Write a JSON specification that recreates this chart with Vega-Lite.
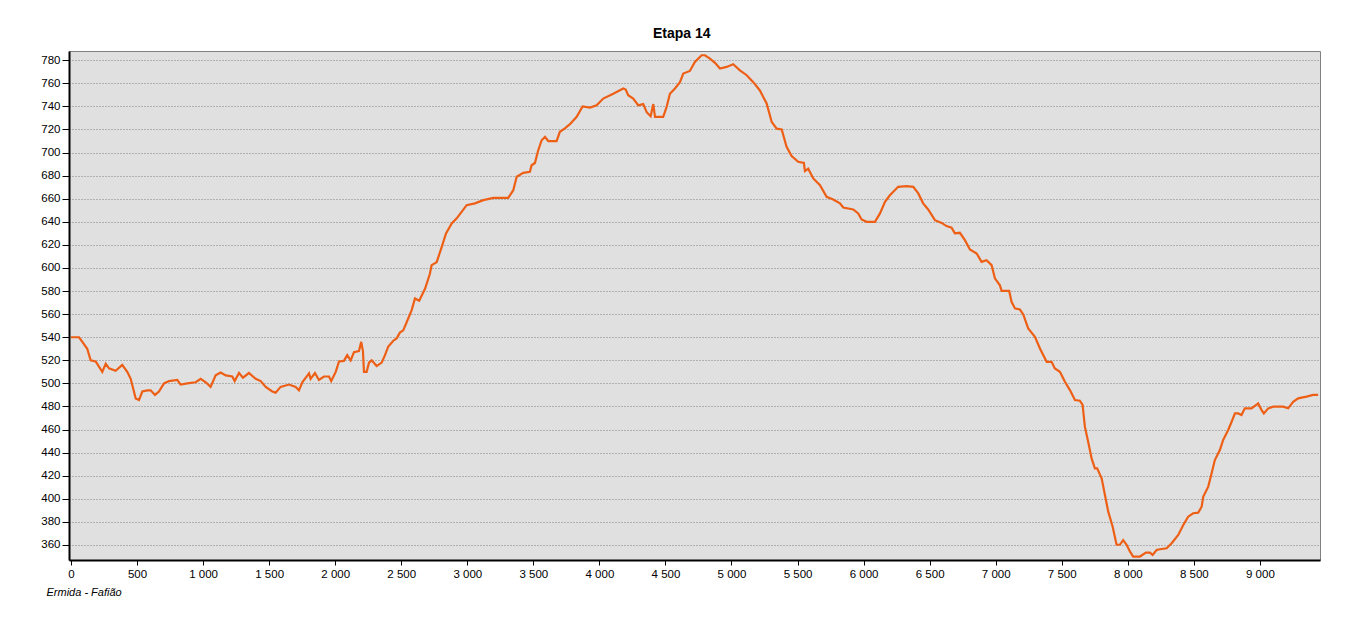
{
  "$schema": "https://vega.github.io/schema/vega-lite/v6.json",
  "autosize": {"type": "none"},
  "padding": {"left": 69, "top": 51, "right": 41, "bottom": 64},
  "width": 1251,
  "height": 509,
  "background": "#ffffff",
  "title": {"text": "Etapa 14", "font": "Liberation Sans", "fontSize": 14, "fontWeight": "bold", "color": "#000000", "anchor": "middle", "frame": "bounds", "offset": 10},
  "config": {
    "locale": {"number": {"decimal": ",", "thousands": " ", "grouping": [3], "currency": ["", ""]}},
    "view": {"fill": "#e0e0e0", "stroke": "#808080", "strokeWidth": 1}
  },
  "data": {"values": [
    {"d":0,"h":540},{"d":61,"h":540},{"d":86,"h":536},{"d":123,"h":530},{"d":149,"h":520},{"d":187,"h":519},{"d":237,"h":510},{"d":263,"h":517},{"d":288,"h":513},{"d":338,"h":511},{"d":388,"h":516},{"d":426,"h":510},{"d":452,"h":504},{"d":490,"h":487},{"d":515,"h":485.6},{"d":540,"h":493},{"d":578,"h":494},{"d":603,"h":494},{"d":636,"h":490},{"d":666,"h":493},{"d":704,"h":500},{"d":742,"h":502},{"d":805,"h":503},{"d":830,"h":499},{"d":880,"h":500},{"d":944,"h":501},{"d":982,"h":504},{"d":1020,"h":501},{"d":1057,"h":497},{"d":1095,"h":507},{"d":1133,"h":509.5},{"d":1171,"h":507},{"d":1221,"h":506},{"d":1239,"h":502},{"d":1272,"h":509},{"d":1302,"h":505},{"d":1347,"h":509},{"d":1398,"h":504},{"d":1436,"h":502},{"d":1474,"h":497},{"d":1524,"h":493},{"d":1549,"h":492},{"d":1587,"h":497},{"d":1650,"h":499},{"d":1701,"h":497},{"d":1726,"h":494},{"d":1751,"h":501},{"d":1802,"h":508.7},{"d":1814,"h":504},{"d":1847,"h":509},{"d":1877,"h":503},{"d":1915,"h":506},{"d":1953,"h":506},{"d":1970,"h":502},{"d":2004,"h":510},{"d":2029,"h":519},{"d":2066,"h":519.5},{"d":2091,"h":524.5},{"d":2117,"h":520},{"d":2142,"h":527},{"d":2180,"h":528},{"d":2197,"h":536},{"d":2210,"h":528},{"d":2218,"h":510},{"d":2238,"h":510},{"d":2256,"h":518},{"d":2276,"h":520},{"d":2314,"h":515},{"d":2352,"h":518},{"d":2377,"h":524.5},{"d":2402,"h":532},{"d":2440,"h":537},{"d":2465,"h":539},{"d":2490,"h":544},{"d":2515,"h":546},{"d":2541,"h":553},{"d":2579,"h":563.5},{"d":2604,"h":573.6},{"d":2636,"h":571.6},{"d":2680,"h":582},{"d":2717,"h":595},{"d":2730,"h":602.5},{"d":2768,"h":605},{"d":2806,"h":618},{"d":2839,"h":630},{"d":2882,"h":638.6},{"d":2920,"h":643},{"d":2957,"h":648.6},{"d":2995,"h":654.4},{"d":3058,"h":656},{"d":3121,"h":658.8},{"d":3147,"h":659.4},{"d":3197,"h":660.8},{"d":3310,"h":660.8},{"d":3348,"h":667.4},{"d":3374,"h":679},{"d":3424,"h":682.4},{"d":3474,"h":683.3},{"d":3487,"h":689},{"d":3512,"h":691},{"d":3537,"h":702},{"d":3563,"h":710.7},{"d":3588,"h":713.6},{"d":3613,"h":710},{"d":3676,"h":710},{"d":3701,"h":718},{"d":3739,"h":721},{"d":3777,"h":724.6},{"d":3828,"h":731},{"d":3873,"h":740},{"d":3929,"h":739},{"d":3979,"h":741},{"d":4029,"h":746.8},{"d":4105,"h":751},{"d":4181,"h":755.5},{"d":4199,"h":754.6},{"d":4218,"h":749.7},{"d":4256,"h":746.8},{"d":4294,"h":741},{"d":4332,"h":742},{"d":4358,"h":735},{"d":4388,"h":731.5},{"d":4408,"h":742},{"d":4421,"h":731},{"d":4483,"h":731},{"d":4509,"h":739.6},{"d":4534,"h":751},{"d":4572,"h":755.5},{"d":4610,"h":761},{"d":4635,"h":768.5},{"d":4685,"h":770.7},{"d":4723,"h":778.5},{"d":4774,"h":784.3},{"d":4799,"h":784.3},{"d":4837,"h":781.4},{"d":4875,"h":777.7},{"d":4913,"h":772.8},{"d":4963,"h":774.2},{"d":5013,"h":776.5},{"d":5064,"h":771.3},{"d":5115,"h":767},{"d":5165,"h":761},{"d":5215,"h":753.8},{"d":5266,"h":742.5},{"d":5304,"h":726.6},{"d":5342,"h":720.7},{"d":5380,"h":720},{"d":5417,"h":705},{"d":5455,"h":697},{"d":5505,"h":692},{"d":5548,"h":691},{"d":5556,"h":684},{"d":5581,"h":686},{"d":5619,"h":677.6},{"d":5670,"h":671.8},{"d":5720,"h":661.6},{"d":5770,"h":659.4},{"d":5821,"h":656},{"d":5846,"h":652.4},{"d":5922,"h":650.7},{"d":5959,"h":647.3},{"d":5985,"h":642},{"d":6023,"h":640},{"d":6086,"h":640},{"d":6124,"h":647.3},{"d":6162,"h":657.3},{"d":6199,"h":663},{"d":6262,"h":670.3},{"d":6326,"h":671},{"d":6376,"h":670.3},{"d":6414,"h":664.6},{"d":6451,"h":656},{"d":6489,"h":650.7},{"d":6540,"h":641.4},{"d":6591,"h":639.1},{"d":6628,"h":636.3},{"d":6666,"h":635},{"d":6691,"h":630},{"d":6729,"h":630.5},{"d":6767,"h":624.1},{"d":6805,"h":616},{"d":6856,"h":612.6},{"d":6893,"h":605.3},{"d":6931,"h":606.8},{"d":6969,"h":602.5},{"d":6994,"h":591},{"d":7032,"h":585},{"d":7045,"h":580.2},{"d":7102,"h":580.2},{"d":7120,"h":570.7},{"d":7146,"h":565},{"d":7183,"h":564},{"d":7208,"h":560},{"d":7246,"h":547.6},{"d":7297,"h":540.4},{"d":7335,"h":530.3},{"d":7386,"h":518.7},{"d":7423,"h":518.7},{"d":7448,"h":513},{"d":7486,"h":510},{"d":7524,"h":501.4},{"d":7562,"h":494.2},{"d":7600,"h":485.6},{"d":7637,"h":485},{"d":7658,"h":481.3},{"d":7675,"h":462.5},{"d":7700,"h":449.5},{"d":7726,"h":435},{"d":7751,"h":426.4},{"d":7768,"h":426.4},{"d":7802,"h":417.8},{"d":7827,"h":403.3},{"d":7852,"h":388.9},{"d":7885,"h":376},{"d":7915,"h":360.2},{"d":7940,"h":360.2},{"d":7965,"h":364.3},{"d":7991,"h":360.2},{"d":8016,"h":354.4},{"d":8041,"h":350},{"d":8092,"h":350},{"d":8137,"h":353.4},{"d":8167,"h":353.4},{"d":8188,"h":351.4},{"d":8218,"h":355.7},{"d":8243,"h":356.3},{"d":8294,"h":357.2},{"d":8332,"h":361.5},{"d":8382,"h":368.7},{"d":8420,"h":377.3},{"d":8457,"h":384.5},{"d":8495,"h":387.5},{"d":8533,"h":388},{"d":8559,"h":393.2},{"d":8571,"h":401.8},{"d":8609,"h":410.5},{"d":8634,"h":422},{"d":8659,"h":433.6},{"d":8697,"h":442.3},{"d":8722,"h":451},{"d":8760,"h":459.6},{"d":8786,"h":466.8},{"d":8811,"h":474},{"d":8836,"h":474},{"d":8861,"h":472.6},{"d":8886,"h":478.4},{"d":8937,"h":478.4},{"d":8987,"h":482.7},{"d":9013,"h":476.9},{"d":9030,"h":474},{"d":9063,"h":478.4},{"d":9101,"h":479.8},{"d":9176,"h":479.8},{"d":9214,"h":478.4},{"d":9252,"h":484.1},{"d":9290,"h":487.1},{"d":9353,"h":488.5},{"d":9403,"h":490},{"d":9441,"h":490}
  ]},
  "mark": {"type": "line", "color": "#ee5f16", "strokeWidth": 2.2, "interpolate": "linear"},
  "encoding": {
    "x": {
      "field": "d", "type": "quantitative",
      "scale": {"domain": [-15, 9455], "nice": false, "zero": false},
      "axis": {
        "values": [0,500,1000,1500,2000,2500,3000,3500,4000,4500,5000,5500,6000,6500,7000,7500,8000,8500,9000],
        "format": ",d", "grid": false,
        "domainColor": "#000000", "domainWidth": 2,
        "tickColor": "#000000", "tickSize": 5, "tickWidth": 1,
        "labelFont": "Liberation Sans", "labelFontSize": 11.5, "labelColor": "#000000", "labelPadding": 3,
        "labelFlush": false,
        "title": "Ermida - Fafião", "titleFont": "Liberation Sans", "titleFontSize": 11, "titleFontStyle": "italic", "titleFontWeight": "normal", "titleColor": "#000000",
        "titleAnchor": "start", "titleAlign": "left", "titleX": -23, "titleY": 26
      }
    },
    "y": {
      "field": "h", "type": "quantitative",
      "scale": {"domain": [347, 788], "nice": false, "zero": false},
      "axis": {
        "values": [360,380,400,420,440,460,480,500,520,540,560,580,600,620,640,660,680,700,720,740,760,780],
        "grid": true, "gridColor": "#808080", "gridDash": [1, 2], "gridWidth": 1,
        "domainColor": "#000000", "domainWidth": 2,
        "tickColor": "#000000", "tickSize": 7, "tickWidth": 1,
        "labelFont": "Liberation Sans", "labelFontSize": 11.5, "labelColor": "#000000", "labelPadding": 2,
        "title": null
      }
    }
  }
}
